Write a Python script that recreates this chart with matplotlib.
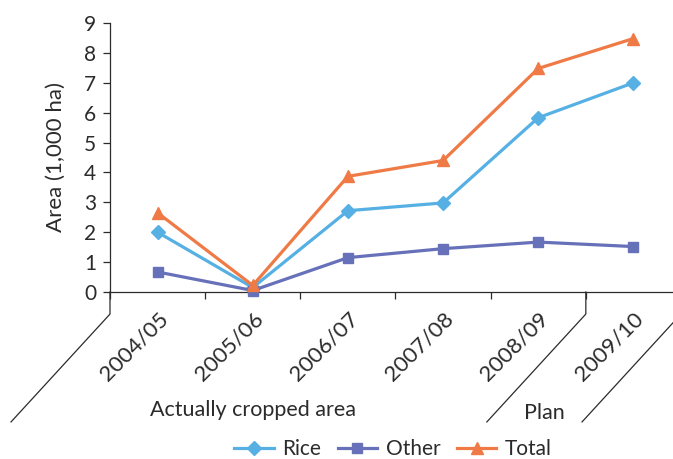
import matplotlib
matplotlib.use("Agg")
import matplotlib.pyplot as plt
from matplotlib.transforms import blended_transform_factory
from matplotlib.lines import Line2D

plt.rcParams["font.family"] = ["Lato", "DejaVu Sans"]

# ---------------------------------------------------------------------------
# data
# ---------------------------------------------------------------------------
seasons = ["2004/05", "2005/06", "2006/07", "2007/08", "2008/09", "2009/10"]
rice = [2.0, 0.15, 2.72, 2.98, 5.83, 7.0]
other = [0.67, 0.05, 1.15, 1.45, 1.67, 1.52]
total = [2.65, 0.22, 3.87, 4.4, 7.48, 8.48]
groups = ["Actually cropped area", "Plan"]

c_rice = "#56b0e3"
c_other = "#6771b9"
c_total = "#ef7a45"
ink = "#2b2b2b"

fig = plt.figure(figsize=(6.73, 4.59), dpi=100)
ax = fig.add_axes([110 / 673, 167 / 459, 571 / 673, 269 / 459])

x = list(range(len(seasons)))
ax.plot(x, rice, color=c_rice, lw=2.3, marker="D", ms=7, label="Rice", clip_on=False, zorder=3)
ax.plot(x, other, color=c_other, lw=2.3, marker="s", ms=7.5, label="Other", clip_on=False, zorder=3)
ax.plot(x, total, color=c_total, lw=2.3, marker="^", ms=9, label="Total", clip_on=False, zorder=4)

ax.set_xlim(-0.5, len(seasons) - 0.5)
ax.set_ylim(0, 9)
ax.set_yticks(range(10))
ax.set_xticks([i - 0.5 for i in range(len(seasons) + 1)])
ax.set_xticklabels([])

for side in ("top", "right"):
    ax.spines[side].set_visible(False)
for side in ("left", "bottom"):
    ax.spines[side].set_color(ink)
    ax.spines[side].set_linewidth(0.9)
ax.tick_params(axis="y", direction="out", length=5, width=0.9, color=ink,
               labelsize=15, labelcolor=ink, pad=5)
ax.tick_params(axis="x", direction="out", length=5, width=0.9, color=ink)
ax.set_ylabel("Area (1,000 ha)", fontsize=16, color=ink, labelpad=13)

# rotated category labels
tr = blended_transform_factory(ax.transData, ax.transAxes)
for i, s in enumerate(seasons):
    ax.text(i, -0.063, s, transform=tr, rotation=45, rotation_mode="anchor",
            ha="right", va="top", fontsize=16, color=ink)

# group separators (extended axis / tick and diagonal lines)
y_low, y_diag = -0.082, -0.483
dx = 1.04
for xb in (-0.5, 4.5, 5.5):
    ax.add_line(Line2D([xb, xb, xb - dx], [0, y_low, y_diag], transform=tr,
                       color=ink, lw=0.9, clip_on=False))

ax.text(1.0, -0.44, groups[0], transform=tr, ha="center", va="center",
        fontsize=15.5, color=ink)
ax.text(4.06, -0.45, groups[1], transform=tr, ha="center", va="center",
        fontsize=15.5, color=ink)

handles, labels = ax.get_legend_handles_labels()
fig.legend(handles, labels, loc="center", bbox_to_anchor=(393 / 673, 1 - 449 / 459),
           ncol=3, frameon=False, fontsize=15, handlelength=1.9,
           handletextpad=0.4, columnspacing=0.8, labelcolor=ink)

fig.savefig("out.png", dpi=100)
